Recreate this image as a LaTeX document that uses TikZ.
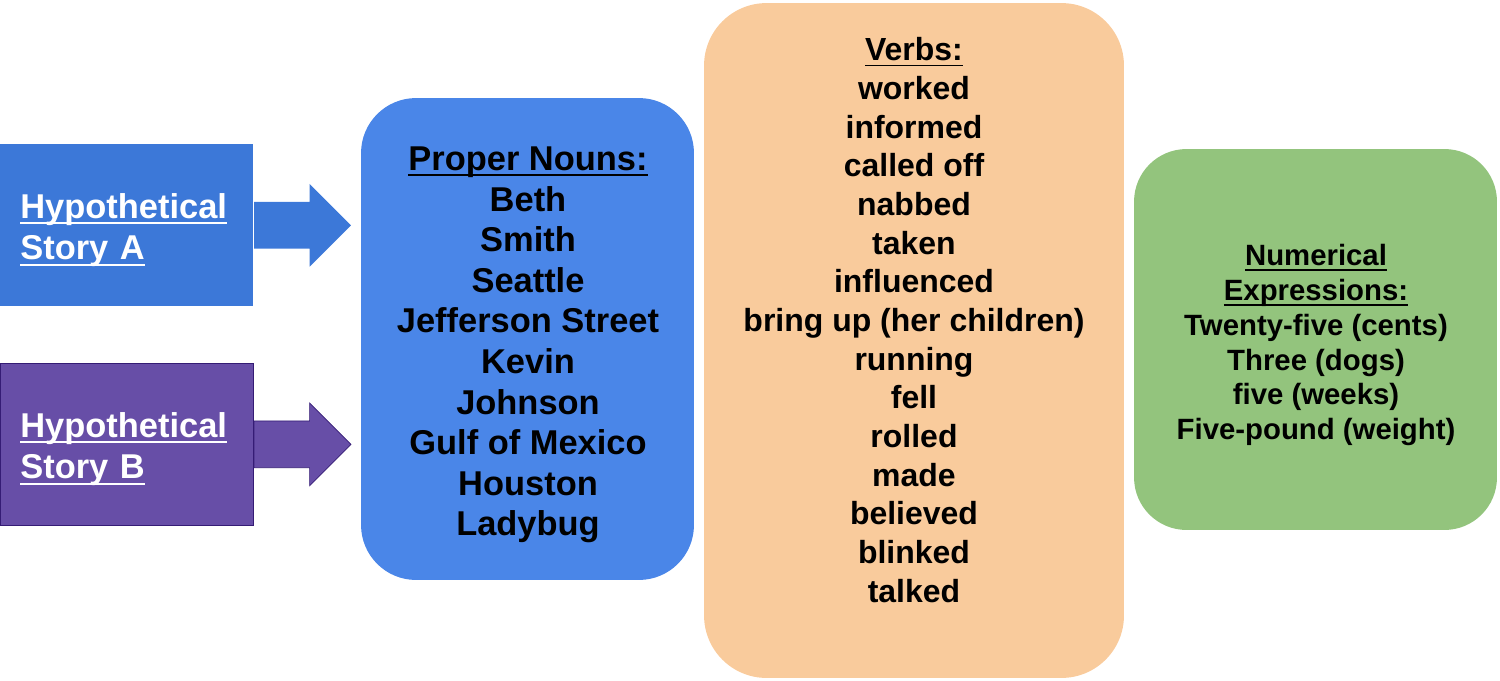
\documentclass[tikz,border=0pt]{standalone}
\usepackage{fontspec}
\setmainfont{Liberation Sans}
\usetikzlibrary{positioning,shapes.arrows}

\definecolor{storyblue}{HTML}{3C78D8}
\definecolor{storypurple}{HTML}{674EA7}
\definecolor{storyedge}{HTML}{351C75}
\definecolor{nounblue}{HTML}{4A86E8}
\definecolor{verbtan}{HTML}{F9CB9C}
\definecolor{numgreen}{HTML}{93C47D}

% underline drawn below the word, the letters sit on top of it
\newcommand{\ulword}[1]{\leavevmode\setbox0\hbox{#1}\rlap{\rule[-3.2pt]{\wd0}{1.1pt}}\box0}

\tikzset{
  storybox/.style={anchor=north west, inner xsep=0.4cm, inner ysep=0pt,
    text width=4.26cm, minimum height=3.24cm, align=left, text=white,
    font=\bfseries\fontsize{19.6}{23.5}\selectfont},
  blockarrow/.style={single arrow, anchor=west, inner xsep=0pt, inner ysep=0.46cm,
    minimum height=1.94cm, single arrow head extend=0.36cm},
  listbox/.style={rounded corners=#1, inner sep=0pt},
  listtext/.style 2 args={align=center, font=\bfseries\fontsize{#1}{#2}\selectfont}
}

\begin{document}
\begin{tikzpicture}[x=0.02cm, y=-0.02cm]%
   % 1 unit = 1 pixel of the 1500 x 680 layout
   \useasboundingbox (0,0) rectangle (1500,680);

   % Stories on the left (strut pushes the two lines a little down)
   \node[storybox, fill=storyblue] (storyA) at (0,144)
     {\rule{0pt}{20pt}\ulword{Hypothetical}\\\ulword{Story A}};
   \node[storybox, fill=storypurple, draw=storyedge, thin] (storyB) at (0,363)
     {\rule{0pt}{20pt}\ulword{Hypothetical}\\\ulword{Story B}};

   % Block arrows
   \node[blockarrow, fill=storyblue] (arrowA) at (storyA.east) {};
   \node[blockarrow, fill=storypurple, draw=storyedge, thin] (arrowB) at (storyB.east) {};

   % Proper nouns
   \node[listbox=1.1cm, fill=nounblue, minimum width=6.66cm, minimum height=9.64cm]
     (nouns) at (527.5,339) {};
   \node[listtext={19.6}{23.1}] (nounlist) at (528,345)
     {\ulword{Proper Nouns:}\\Beth\\Smith\\Seattle\\Jefferson Street\\Kevin\\Johnson\\Gulf of Mexico\\Houston\\Ladybug};

   % Verbs
   \node[listbox=1.25cm, fill=verbtan, minimum width=8.4cm, minimum height=13.5cm]
     (verbs) at (914,340.5) {};
   \node[listtext={18.2}{22}] (verblist) at (914,320)
     {\ulword{Verbs:}\\worked\\informed\\called off\\nabbed\\taken\\influenced\\bring up (her children)\\running\\fell\\rolled\\made\\believed\\blinked\\talked};

   % Numerical expressions
   \node[listbox=1.05cm, fill=numgreen, minimum width=7.26cm, minimum height=7.62cm]
     (numbers) at (1315.5,339.5) {};
   \node[listtext={16.7}{19.9}] (numberlist) at (1316,345)
     {\ulword{Numerical}\\\ulword{Expressions:}\\Twenty-five (cents)\\Three (dogs)\\five (weeks)\\Five-pound (weight)};
 \end{tikzpicture}
\end{document}
